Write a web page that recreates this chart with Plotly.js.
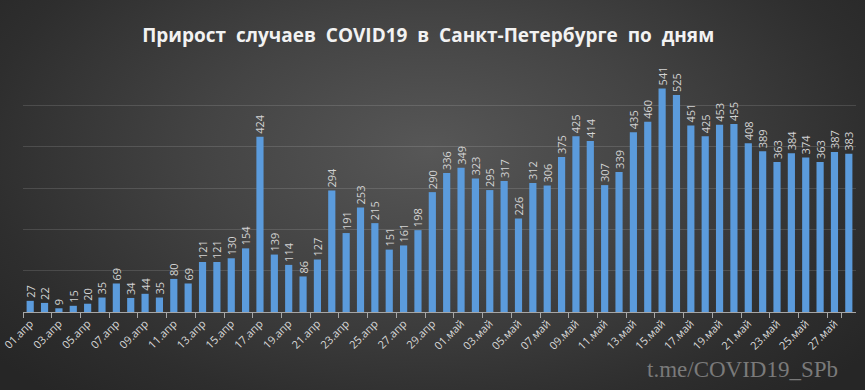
<!DOCTYPE html>
<html>
<head>
<meta charset="utf-8">
<script src="https://cdn.plot.ly/plotly-3.0.1.min.js"></script>
<style>
html,body{margin:0;padding:0;width:865px;height:390px;overflow:hidden;}
body{background:radial-gradient(ellipse 560px 330px at 430px 150px,#575757 0%,#444444 40%,#2e2e2e 80%,#262626 100%);}
#chart{width:865px;height:390px;}
</style>
</head>
<body>
<div id="chart"></div>
<script>
const days = [
"01.апр","02.апр","03.апр","04.апр","05.апр","06.апр","07.апр","08.апр","09.апр","10.апр",
"11.апр","12.апр","13.апр","14.апр","15.апр","16.апр","17.апр","18.апр","19.апр","20.апр",
"21.апр","22.апр","23.апр","24.апр","25.апр","26.апр","27.апр","28.апр","29.апр","30.апр",
"01.май","02.май","03.май","04.май","05.май","06.май","07.май","08.май","09.май","10.май",
"11.май","12.май","13.май","14.май","15.май","16.май","17.май","18.май","19.май","20.май",
"21.май","22.май","23.май","24.май","25.май","26.май","27.май","28.май"];
const cases = [
27,22,9,15,20,35,69,34,44,35,
80,69,121,121,130,154,424,139,114,86,
127,294,191,253,215,151,161,198,290,336,
349,323,295,317,226,312,306,375,425,414,
307,339,435,460,541,525,451,425,453,455,
408,389,363,384,374,363,387,383];
const tickLabels = days.filter((d,i)=>i%2===0);
const titleText = "Прирост\u00a0 случаев\u00a0 COVID19\u00a0 в\u00a0 Санкт-Петербурге\u00a0 по\u00a0 дням";
const watermark = "t.me/COVID19_SPb";

const trace = {
  type:'bar', x:days, y:cases,
  text:cases.map(String), textposition:'outside', textangle:-90,
  cliponaxis:false,
  textfont:{family:'Open Sans, sans-serif', size:11, color:'#d4d4d4'},
  marker:{color:'#5b9bdc', line:{width:0}},
  hoverinfo:'x+y'
};
const layout = {
  width:865, height:390,
  paper_bgcolor:'rgba(0,0,0,0)', plot_bgcolor:'rgba(0,0,0,0)',
  margin:{l:23, r:9, t:64, b:78},
  bargap:0.5,
  showlegend:false,
  uniformtext:{mode:'show', minsize:11},
  title:{text:titleText, x:0.495, xanchor:'center', y:0.91, yanchor:'middle',
    font:{family:'Open Sans, sans-serif', size:19, color:'#f2f2f2', weight:'bold'}},
  xaxis:{type:'category', tickmode:'array', tickvals:tickLabels, ticktext:tickLabels,
    tickangle:-45, tickson:'boundaries', ticks:'outside', ticklen:5, tickcolor:'#a6a6a6',
    showline:true, linecolor:'#a6a6a6', linewidth:1, showgrid:false,
    tickfont:{family:'Open Sans, sans-serif', size:11, color:'#d9d9d9'}, fixedrange:true},
  yaxis:{range:[0,600], dtick:100, showticklabels:false, showgrid:true,
    gridcolor:'rgba(255,255,255,0.13)', gridwidth:1, zeroline:false, showline:false, ticks:'', fixedrange:true},
  annotations:[{text:watermark, xref:'paper', yref:'paper', x:0.981, y:-0.175, xanchor:'right', yanchor:'top',
    showarrow:false, font:{family:'Liberation Serif, DejaVu Serif, serif', size:23, color:'#7a7a7a'}}]
};
Plotly.newPlot('chart',[trace],layout,{displayModeBar:false, staticPlot:true});
</script>
</body>
</html>
